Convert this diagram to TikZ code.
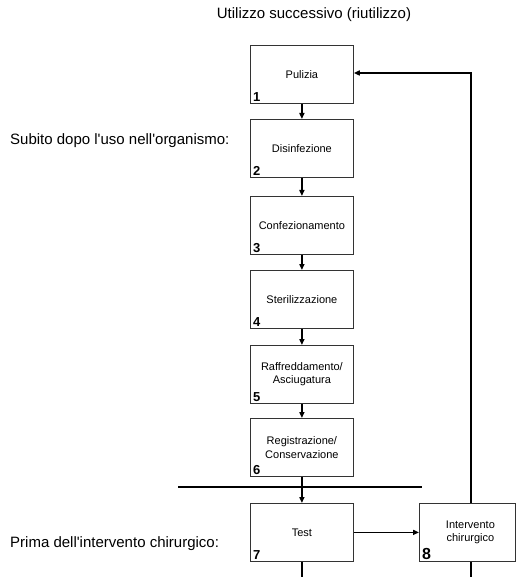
\documentclass[tikz,border=0pt]{standalone}
\usepackage{fontspec}
\setmainfont{Liberation Sans}
\usetikzlibrary{arrows.meta}
\begin{document}
\begin{tikzpicture}[x=1pt,y=-1pt,
  stepbox/.style={draw=black!80, line width=0.8pt, minimum width=103pt,
    minimum height=58pt, inner sep=0pt, align=center, anchor=north west,
    font=\fontsize{11}{13.5}\selectfont},
  num/.style={font=\fontsize{13}{13}\selectfont\bfseries, anchor=south west,
    inner sep=0pt},
  flow/.style={line width=1.5pt, -{Triangle[length=6pt,width=5pt]}},
  plain/.style={line width=1.5pt},
  note/.style={font=\fontsize{15}{17}\selectfont, inner sep=0pt}]
\useasboundingbox (0,0) rectangle (516,577);

% process steps
\node[stepbox] (b1) at (250,45)  {Pulizia};
\node[stepbox] (b2) at (250,119) {Disinfezione};
\node[stepbox] (b3) at (250,196) {Confezionamento};
\node[stepbox] (b4) at (250,270) {Sterilizzazione};
\node[stepbox] (b5) at (250,345) {Raffreddamento/\\Asciugatura};
\node[stepbox] (b6) at (250,418) {Registrazione/\\Conservazione};
\node[stepbox] (b7) at (250,503) {Test};
\node[stepbox, minimum width=96pt] (b8) at (419,503) {\hspace*{6pt}Intervento\\\hspace*{6pt}chirurgico};

% step numbers
\node[num] (n1) at ([shift={(3pt,2pt)}]b1.south west) {1};
\node[num] (n2) at ([shift={(3pt,2pt)}]b2.south west) {2};
\node[num] (n3) at ([shift={(3pt,2pt)}]b3.south west) {3};
\node[num] (n4) at ([shift={(3pt,2pt)}]b4.south west) {4};
\node[num] (n5) at ([shift={(3pt,2pt)}]b5.south west) {5};
\node[num] (n6) at ([shift={(3pt,2pt)}]b6.south west) {6};
\node[num] (n7) at ([shift={(3pt,2pt)}]b7.south west) {7};
\node[num, font=\fontsize{16}{16}\selectfont\bfseries] (n8) at ([shift={(3pt,2pt)}]b8.south west) {8};

% phase labels
\node[note] (top) at (314,15) {Utilizzo successivo (riutilizzo)};
\node[note, anchor=west] (after) at (10,141) {Subito dopo l\textquotesingle uso nell\textquotesingle organismo:};
\node[note, anchor=west] (before) at (10,544) {Prima dell\textquotesingle intervento chirurgico:};

% flow between steps
\draw[flow] (b1) -- (b2);
\draw[flow] (b2) -- (b3);
\draw[flow] (b3) -- (b4);
\draw[flow] (b4) -- (b5);
\draw[flow] (b5) -- (b6);
\draw[flow] (b6) -- (b7);
\draw[flow] (b7) -- (b8);

% return path to cleaning
\coordinate (ret) at (471,503);
\coordinate (retTop) at (471,73);
\draw[flow] (ret) -- (retTop) -- (b1.east |- retTop);

% separator line
\coordinate (sepL) at (178,487);
\coordinate (sepR) at (422,487);
\draw[plain] (sepL) -- (sepR);

% continuing lines below the last steps
\coordinate (end7) at (b7.south |- 0,577);
\coordinate (end8) at (471,577);
\draw[plain] (b7.south) -- (end7);
\draw[plain] (ret |- b8.south) -- (end8);
\end{tikzpicture}
\end{document}
